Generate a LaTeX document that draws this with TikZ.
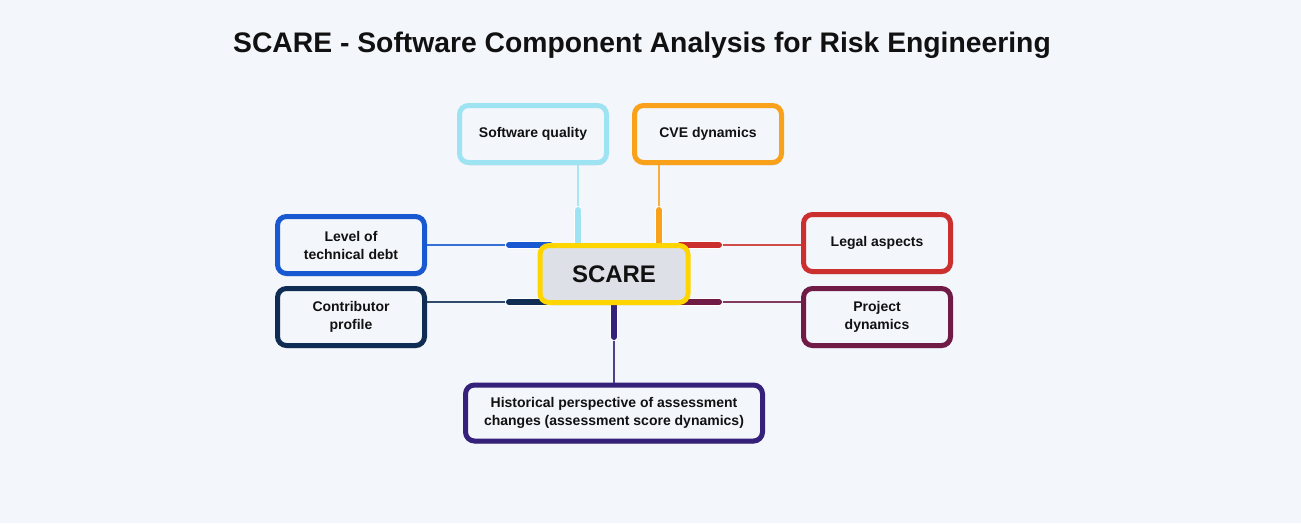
\documentclass[tikz,border=0pt]{standalone}
\usepackage{fontspec}
\setmainfont{Liberation Sans}
\usetikzlibrary{shadows}
\definecolor{bgc}{HTML}{F3F6FB}
\definecolor{ccyan}{HTML}{9EE3F2}
\definecolor{corange}{HTML}{F9A11B}
\definecolor{cblue}{HTML}{1858D0}
\definecolor{cnavy}{HTML}{0F2D52}
\definecolor{cred}{HTML}{CB302E}
\definecolor{cmaroon}{HTML}{701A46}
\definecolor{cpurple}{HTML}{35207A}
\definecolor{cyellow}{HTML}{FFD500}
\definecolor{cscare}{HTML}{DDE1E7}
\definecolor{ctext}{HTML}{111111}
\tikzset{
  topic/.style={draw=#1, line width=5pt, rounded corners=9pt, fill=bgc,
    minimum width=147pt, minimum height=57pt, align=center, inner sep=2pt,
    font=\fontsize{14pt}{18pt}\selectfont\bfseries, text=ctext,
    drop shadow={shadow xshift=1pt, shadow yshift=-2.5pt, opacity=0.22, fill=black}},
  stub/.style={draw=#1, line width=6pt, line cap=round},
  link/.style={draw=#1, line width=1.4pt, draw opacity=0.85},
}
\begin{document}
\begin{tikzpicture}[x=1pt,y=-1pt]
\fill[bgc] (0,0) rectangle (1301,523);
\useasboundingbox (0,0) rectangle (1301,523);

\node[font=\fontsize{28.3pt}{32pt}\selectfont\bfseries, text=ctext] (title) at (642,45) {SCARE - Software Component Analysis for Risk Engineering};

% junction coordinates
\coordinate (jsq) at (578,210);
\coordinate (jcve) at (659,210);
\coordinate (jlvl) at (509,245);
\coordinate (jleg) at (719,245);
\coordinate (jcon) at (509,302);
\coordinate (jprj) at (719,302);
\coordinate (jhis) at (614,337);
\coordinate (esq) at (578,250);
\coordinate (ecve) at (659,250);
\coordinate (elvl) at (550,245);
\coordinate (eleg) at (680,245);
\coordinate (econ) at (550,302);
\coordinate (eprj) at (680,302);
\coordinate (ehis) at (614,298);

\node[topic=ccyan] (sq) at (533,134) {Software quality};
\node[topic=corange] (cve) at (708,134) {CVE dynamics};
\node[topic=cblue] (lvl) at (351,245) {Level of\\technical debt};
\node[topic=cnavy] (con) at (351,317) {Contributor\\profile};
\node[topic=cred] (leg) at (877,243) {Legal aspects};
\node[topic=cmaroon] (prj) at (877,317) {Project\\dynamics};
\node[topic=cpurple, minimum width=297pt, minimum height=56pt] (his) at (614,413) {Historical perspective of assessment\\changes (assessment score dynamics)};

% thin links
\draw[link=ccyan] (jsq |- sq.south) -- (jsq);
\draw[link=corange] (jcve |- cve.south) -- (jcve);
\draw[link=cblue] (lvl.east) -- (jlvl);
\draw[link=cred] (leg.west |- jleg) -- (jleg);
\draw[link=cnavy] (con.east |- jcon) -- (jcon);
\draw[link=cmaroon] (prj.west |- jprj) -- (jprj);
\draw[link=cpurple] (his.north) -- (jhis);

% stubs (white halo then colour)
\foreach \a/\b in {jsq/esq,jcve/ecve,jlvl/elvl,jleg/eleg,jcon/econ,jprj/eprj,jhis/ehis}{
  \draw[stub=white, line width=8pt] (\a) -- (\b);
}
\draw[stub=ccyan] (jsq) -- (esq);
\draw[stub=corange] (jcve) -- (ecve);
\draw[stub=cblue] (jlvl) -- (elvl);
\draw[stub=cred] (jleg) -- (eleg);
\draw[stub=cnavy] (jcon) -- (econ);
\draw[stub=cmaroon] (jprj) -- (eprj);
\draw[stub=cpurple] (jhis) -- (ehis);

\node[topic=cyellow, fill=cscare, minimum width=148pt, minimum height=57pt,
  font=\fontsize{24pt}{28pt}\selectfont\bfseries] (scare) at (614,274) {SCARE};
\end{tikzpicture}
\end{document}
